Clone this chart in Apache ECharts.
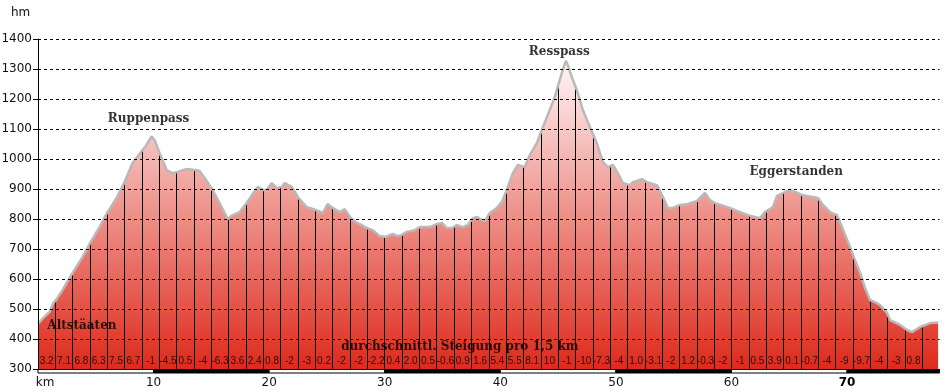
<!DOCTYPE html>
<html>
<head>
<meta charset="utf-8">
<script src="https://cdn.jsdelivr.net/npm/echarts@6/dist/echarts.min.js"></script>
<style>html,body{margin:0;padding:0;background:#fff}#c{width:944px;height:392px}</style>
</head>
<body>
<div id="c"></div>
<script>
// Elevation profile (km, hm)
const profileKm = [0,0.4,1.0,1.3,1.6,2.12,2.99,3.85,4.55,5.32,5.93,6.80,7.49,8.18,9.05,9.39,9.83,10.09,10.52,11.13,11.65,12.08,12.86,13.55,13.98,14.42,15.02,15.71,16.41,16.84,17.45,18.05,18.57,19.0,19.44,19.78,20.22,20.65,21.08,21.34,21.95,22.55,23.25,24.03,24.63,25.06,25.50,26.10,26.54,27.06,27.58,28.01,28.44,28.96,29.57,30.09,30.69,31.13,31.47,31.90,32.60,33.03,33.90,34.50,34.94,35.37,35.80,36.23,36.75,37.19,37.62,37.97,38.40,38.66,39.09,39.70,40.13,40.56,41.08,41.52,42.12,42.55,43.16,43.59,44.11,44.72,45.06,45.41,45.67,45.84,46.19,46.62,47.14,47.75,48.35,48.87,49.31,49.74,50.17,50.61,51.21,51.47,52.25,52.68,53.55,54.07,54.50,54.94,55.54,56.23,57.01,57.71,58.14,58.57,59.87,60.74,61.43,62.47,62.90,63.59,63.94,64.63,65.06,65.50,66.10,67.49,67.92,68.53,69.13,69.57,70.26,70.69,71.13,71.56,71.99,72.42,72.86,73.46,73.72,74.59,75.19,75.63,76.32,77.19,77.88];
const profileElev = [450,468,490,518,532,563,620,673,723,773,817,870,923,987,1030,1047,1075,1063,1020,963,953,957,967,963,960,937,903,853,800,813,823,853,883,907,897,897,920,903,907,920,907,870,840,830,820,850,837,823,833,803,787,780,770,763,743,740,750,743,747,757,763,773,773,783,787,770,770,780,773,780,803,807,797,793,820,837,857,897,953,980,973,1013,1053,1097,1147,1207,1253,1297,1327,1313,1273,1230,1163,1107,1053,990,973,980,953,920,913,923,933,923,913,873,837,837,847,850,860,887,863,853,837,823,813,803,823,840,877,890,897,890,880,870,847,823,813,773,707,663,620,570,530,523,513,487,463,447,430,423,440,453,455];

// average gradient per 1.5 km segment
const segmentKm = 1.5;
const slopeLabels = ['3.2','7.1','6.8','6.3','7.5','6.7','-1','-4.5','0.5','-4','-6.3','3.6','2.4','0.8','-2','-3','0.2','-2','-2','-2.2','0.4','2.0','0.5','-0.6','0.9','1.6','5.4','5.5','8.1','10','-1','-10','-7.3','-4','1.0','-3.1','-2','1.2','-0.3','-2','-1','0.5','3.9','0.1','-0.7','-4','-9','-9.7','-4','-3','0.8',''];

// annotations
const placeNames = ['Ruppenpass','Resspass','Eggerstanden','Altstäaten','durchschnittl. Steigung pro 1,5 km'];
const placeKm = [9.57, 45.1, 65.6, 3.8, 36.5];
const placeElev = [1133, 1358, 957, 443, 373];

// y tick labels and km scale band boundaries
const yTicks = [300,400,500,600,700,800,900,1000,1100,1200,1300,1400];
const stripeBounds = [0,10,20,30,40,50,60,70,78];

const kmMin = 0, kmMax = 78;
const profile = profileKm.map((k,i)=>[k, profileElev[i]]);
const slopeData = slopeLabels.map((t,i)=>({value:[segmentKm*i+segmentKm/2, 327], label:{formatter:t}}));
const placeData = placeNames.map((n,i)=>({name:n, value:[placeKm[i], placeElev[i]]}));
const stripeData = stripeBounds.slice(0,-1).map((b,i)=>[b, stripeBounds[i+1], i%2]);

const chart = echarts.init(document.getElementById('c'), null, {renderer:'canvas'});
chart.setOption({
  animation:false,
  backgroundColor:'#fff',
  title:{text:'hm', left:6, top:2, textStyle:{fontFamily:'DejaVu Sans', fontSize:12, fontWeight:'normal', color:'#111'}},
  grid:{left:38, top:39, width:901.5, height:330, containLabel:false, outerBoundsMode:'none'},
  xAxis:[{
    type:'value', min:kmMin, max:kmMax, interval:10, z:10,
    axisLine:{show:true, onZero:false, lineStyle:{color:'#000', width:1}},
    axisTick:{show:false},
    splitLine:{show:false},
    axisLabel:{margin:8, showMaxLabel:false, fontFamily:'DejaVu Sans', fontSize:12, color:'#111',
      formatter:v=> v===0 ? '{km|km}' : (v===70 ? '{b|70}' : String(v)),
      rich:{km:{fontFamily:'DejaVu Sans', fontSize:12, color:'#111', padding:[0,0,0,14]}, b:{fontFamily:'DejaVu Sans', fontSize:12, color:'#000', fontWeight:'bold'}}}
  },{
    type:'value', min:kmMin, max:kmMax, interval:segmentKm, z:3, position:'bottom',
    axisLine:{show:false}, axisTick:{show:false}, axisLabel:{show:false},
    splitLine:{show:true, showMaxLine:false, lineStyle:{color:'#000', width:1}}
  }],
  yAxis:{
    type:'value', min:yTicks[0], max:yTicks[yTicks.length-1], interval:yTicks[1]-yTicks[0], z:10,
    axisLine:{show:true, lineStyle:{color:'#000', width:1}},
    axisTick:{show:true, length:5, lineStyle:{color:'#000'}},
    axisLabel:{margin:6, fontFamily:'DejaVu Sans', fontSize:12, color:'#111', formatter:v=>String(v)},
    splitLine:{show:true, lineStyle:{color:'#000', width:1, type:[3,3]}}
  },
  series:[
    { type:'line', data:profile, symbol:'none', z:2, silent:true,
      lineStyle:{width:0},
      areaStyle:{origin:'start', opacity:1, color:new echarts.graphic.LinearGradient(0,0,0,1,[{offset:0,color:'#fff6f6'},{offset:1,color:'#dd2a1b'}])}
    },
    { type:'line', data:profile, symbol:'none', z:4, silent:true,
      lineStyle:{width:2.5, color:'#b9b9b9'},
      areaStyle:{origin:'end', opacity:1, color:'#fff'}
    },
    { type:'scatter', data:slopeData, symbolSize:0, z:6, silent:true,
      label:{show:true, position:'inside', fontFamily:'Liberation Sans', fontSize:10, color:'#000'}
    },
    { type:'scatter', data:placeData, symbolSize:0, z:6, silent:true,
      label:{show:true, position:'inside', formatter:'{b}', fontFamily:'DejaVu Serif', fontWeight:'bold', fontSize:12, color:'#000'}
    },
    { type:'custom', data:stripeData, z:11, clip:false, silent:true,
      renderItem:(params, api)=>{
        const p1 = api.coord([api.value(0), 300]);
        const p2 = api.coord([api.value(1), 300]);
        return {type:'rect', shape:{x:p1[0], y:p1[1]+0.5, width:p2[0]-p1[0], height:3.5},
          style:{fill: api.value(2) ? '#000' : '#fff', stroke:'#000', lineWidth:1}};
      }
    }
  ]
});
</script>
</body>
</html>
